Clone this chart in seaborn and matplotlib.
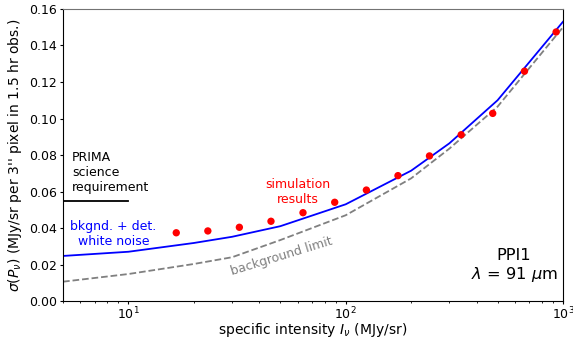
import matplotlib
matplotlib.use("Agg")
import matplotlib.pyplot as plt
import seaborn as sns

# model curves
model_I = [5, 10, 20, 30, 50, 100, 200, 300, 500, 1000]
noise_total = [0.0247, 0.027, 0.0318, 0.0352, 0.041, 0.053, 0.0714, 0.0864, 0.110, 0.153]
noise_bkg = [0.0106, 0.0148, 0.0203, 0.024, 0.0334, 0.047, 0.0672, 0.0835, 0.1065, 0.150]

# simulation results
sim_I = [16.6, 23.2, 32.4, 45.3, 63.6, 89.0, 124.5, 174, 243, 340, 475, 665, 930]
sim_sigma = [0.0374, 0.0384, 0.0404, 0.0437, 0.0484, 0.0541, 0.0608, 0.0687,
             0.0795, 0.0911, 0.1028, 0.1259, 0.1474]

# science requirement
req_I = [5, 10]
req_sigma = [0.055, 0.055]

fig, ax = plt.subplots(figsize=(5.73, 3.39), dpi=100)
fig.subplots_adjust(left=0.110, right=0.9825, bottom=0.112, top=0.9735)

sns.lineplot(x=model_I, y=noise_bkg, ax=ax, color="gray", linestyle="--", lw=1.3)
sns.lineplot(x=model_I, y=noise_total, ax=ax, color="blue", lw=1.3)
sns.lineplot(x=req_I, y=req_sigma, ax=ax, color="black", lw=1.3)
sns.scatterplot(x=sim_I, y=sim_sigma, ax=ax, color="red", s=28, edgecolor="none", zorder=5)

ax.set_xscale("log")
ax.set_xlim(5, 1000)
ax.set_ylim(0, 0.16)
ax.set_yticks([0, 0.02, 0.04, 0.06, 0.08, 0.10, 0.12, 0.14, 0.16])
ax.set_yticklabels([f"{v:.2f}" for v in ax.get_yticks()])
ax.tick_params(which="major", labelsize=9, length=2.5, pad=2)
ax.tick_params(axis="x", which="major", pad=1)
ax.tick_params(which="minor", length=1.5)
ax.spines["top"].set_color("0.45")

ax.set_xlabel(r"specific intensity $I_\nu$ (MJy/sr)", fontsize=10)
ax.set_ylabel(r"$\sigma(P_\nu)$ (MJy/sr per 3'' pixel in 1.5 hr obs.)", fontsize=10)
ax.xaxis.set_label_coords(0.5, -0.07)
ax.yaxis.set_label_coords(-0.078, 0.5)

ax.text(5.5, 0.0588, "PRIMA\nscience\nrequirement", fontsize=9, ha="left", va="bottom")
ax.text(8.54, 0.0367, "bkgnd. + det.\nwhite noise", fontsize=9, color="blue",
        ha="center", va="center", multialignment="center")
ax.text(60.5, 0.0599, "simulation\nresults", fontsize=9, color="red",
        ha="center", va="center", multialignment="center")
ax.text(50.8, 0.0247, "background limit", fontsize=9, color="gray",
        ha="center", va="center", rotation=17)
ax.text(0.902, 0.12, "PPI1\n$\\lambda$ = 91 $\\mu$m", fontsize=11.7, transform=ax.transAxes,
        ha="center", va="center", multialignment="center")

fig.savefig("out.png", dpi=100)
